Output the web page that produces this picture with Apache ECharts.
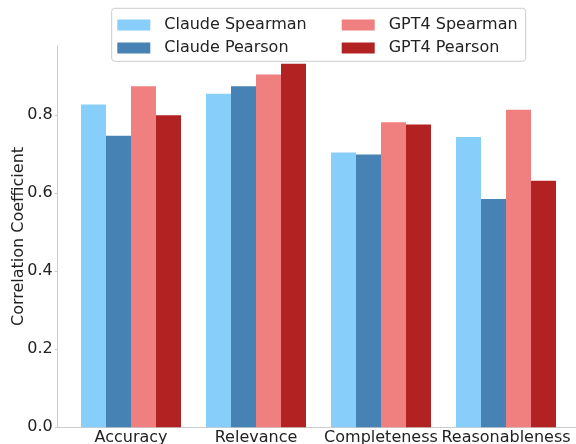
<!DOCTYPE html>
<html>
<head>
<meta charset="utf-8">
<script src="https://cdn.jsdelivr.net/npm/echarts@6/dist/echarts.min.js"></script>
<style>html,body{margin:0;padding:0;background:#fff;}#c{width:576px;height:444px;}</style>
</head>
<body>
<div id="c"></div>
<script>
const categories = ['Accuracy', 'Relevance', 'Completeness', 'Reasonableness'];
const claudeSpearman = [0.827, 0.855, 0.704, 0.744];
const claudePearson = [0.747, 0.874, 0.699, 0.585];
const gpt4Spearman = [0.874, 0.904, 0.782, 0.814];
const gpt4Pearson = [0.800, 0.932, 0.776, 0.632];
const yTicks = [0.0, 0.2, 0.4, 0.6, 0.8];
const yMax = 0.978;

const FONT = 'DejaVu Sans';
const chart = echarts.init(document.getElementById('c'), null, {renderer: 'canvas'});

function barSeries(name, data, color) {
  return {
    name: name, type: 'bar', data: data, xAxisIndex: 1, yAxisIndex: 1,
    barWidth: 25, barGap: '0%',
    itemStyle: {color: color},
    emphasis: {disabled: true}
  };
}

const option = {
  animation: false,
  backgroundColor: '#fff',
  textStyle: {fontFamily: FONT},
  grid: [
    {left: 57.7, top: 45.7, width: 522, height: 381.6, containLabel: false, outerBoundsMode: 'none'},
    {left: 68.5, top: 45.7, width: 500, height: 381.6, containLabel: false, outerBoundsMode: 'none'}
  ],
  xAxis: [
    {gridIndex: 0, type: 'value', min: 0, max: 1,
     axisLine: {show: true, lineStyle: {color: '#cccccc', width: 1}},
     axisTick: {show: false}, axisLabel: {show: false}, splitLine: {show: false}},
    {gridIndex: 1, type: 'category', data: categories,
     axisLine: {show: false}, axisTick: {show: false}, splitLine: {show: false},
     axisLabel: {fontSize: 16, color: '#222', fontFamily: FONT, margin: 3, interval: 0}}
  ],
  yAxis: [
    {gridIndex: 0, type: 'value', min: 0, max: yMax, interval: 0.2,
     name: 'Correlation Coefficient', nameLocation: 'middle', nameGap: 31, nameRotate: 90,
     nameMoveOverlap: false,
     nameTextStyle: {fontSize: 16, color: '#222', fontFamily: FONT},
     axisLine: {show: true, lineStyle: {color: '#cccccc', width: 1}},
     axisTick: {show: true, length: 3, lineStyle: {color: '#cccccc'},
       customValues: yTicks},
     axisLabel: {fontSize: 16, color: '#222', fontFamily: FONT, margin: 5,
       customValues: yTicks,
       formatter: v => (v > 0.9 ? '' : v.toFixed(1))},
     splitLine: {show: false}},
    {gridIndex: 1, type: 'value', min: 0, max: yMax, show: false,
     splitLine: {show: false}}
  ],
  legend: [
    {data: ['Claude Spearman', 'Claude Pearson'], orient: 'vertical',
     left: 112.3, top: 12, itemWidth: 33, itemHeight: 11, itemGap: 7,
     icon: 'rect', selectedMode: false,
     textStyle: {fontSize: 16, color: '#222', fontFamily: FONT, padding: [0, 0, 0, 9]}},
    {data: ['GPT4 Spearman', 'GPT4 Pearson'], orient: 'vertical',
     left: 336.7, top: 12, itemWidth: 33, itemHeight: 11, itemGap: 7,
     icon: 'rect', selectedMode: false,
     textStyle: {fontSize: 16, color: '#222', fontFamily: FONT, padding: [0, 0, 0, 9]}}
  ],
  graphic: [
    {type: 'rect', z: -1, zlevel: 0,
     shape: {x: 111.7, y: 8.3, width: 414, height: 53, r: 3},
     style: {fill: 'rgba(255,255,255,0.8)', stroke: '#cccccc', lineWidth: 1}}
  ],
  series: [
    barSeries('Claude Spearman', claudeSpearman, '#87CEFA'),
    barSeries('Claude Pearson', claudePearson, '#4682B4'),
    barSeries('GPT4 Spearman', gpt4Spearman, '#F08080'),
    barSeries('GPT4 Pearson', gpt4Pearson, '#B22222')
  ]
};
chart.setOption(option);
</script>
</body>
</html>
